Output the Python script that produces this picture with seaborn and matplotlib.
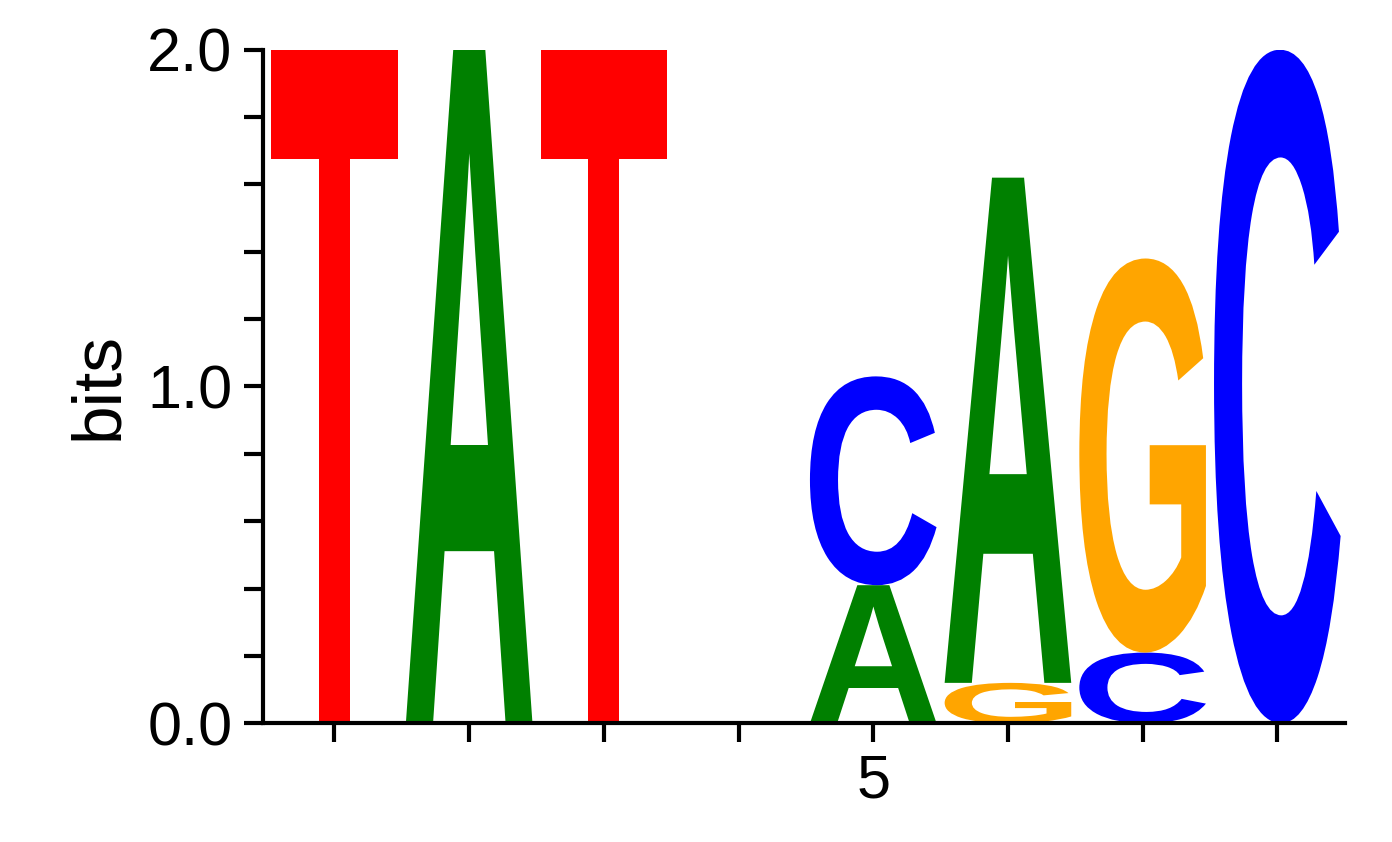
import matplotlib
matplotlib.use("Agg")
import matplotlib.pyplot as plt
import seaborn as sns
from matplotlib.textpath import TextPath
from matplotlib.patches import PathPatch
from matplotlib.font_manager import FontProperties
from matplotlib.transforms import Affine2D

# stacks per position, bottom to top: (letter, height in bits)
positions = [1, 2, 3, 4, 5, 6, 7, 8]
stacks = [
    [("T", 2.0)],
    [("A", 2.0)],
    [("T", 2.0)],
    [],
    [("A", 0.41), ("C", 0.62)],
    [("G", 0.12), ("A", 1.50)],
    [("C", 0.21), ("G", 1.17)],
    [("C", 2.0)],
]
colors = {"A": "#008000", "C": "#0000FF", "G": "#FFA500", "T": "#FF0000"}

sns.set_style("ticks")
plt.rcParams["font.family"] = ["Liberation Sans", "DejaVu Sans"]

fig = plt.figure(figsize=(13.92, 8.42), dpi=100)
ax = fig.add_axes([0.189, 0.141, 0.777, 0.80])
fp = FontProperties(family="Liberation Sans", weight="bold")
width = 0.94

for pos, stack in zip(positions, stacks):
    base = 0.0
    for letter, h in stack:
        path = TextPath((0, 0), letter, size=1, prop=fp)
        bb = path.get_extents()
        tr = (Affine2D().translate(-bb.x0, -bb.y0)
              .scale(width / bb.width, h / bb.height)
              .translate(pos - width / 2, base))
        ax.add_patch(PathPatch(tr.transform_path(path), color=colors[letter], lw=0))
        base += h

ax.set_xlim(0.47, 8.5)
ax.set_ylim(0, 2)
ax.set_xticks(positions)
ax.set_xticklabels(["" if p != 5 else "5" for p in positions])
ax.set_yticks([0, 1, 2])
ax.set_yticklabels(["0.0", "1.0", "2.0"])
ax.set_yticks([0.2 * i for i in range(11)], minor=True)
ax.tick_params(axis="both", labelsize=44, width=3, length=14, color="black", labelcolor="black", pad=8)
ax.tick_params(axis="y", which="minor", width=3, length=14, color="black")
ax.set_ylabel("bits", fontsize=50, labelpad=12, color="black")
for s in ["left", "bottom"]:
    ax.spines[s].set_linewidth(3)
    ax.spines[s].set_color("black")
sns.despine(ax=ax)
fig.savefig("out.png", dpi=100)
